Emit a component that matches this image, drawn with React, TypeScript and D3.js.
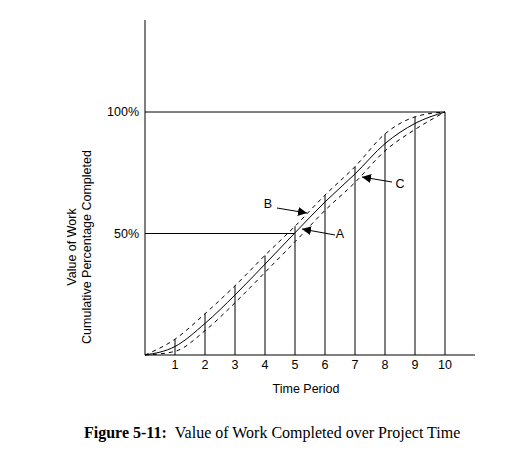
import React from "react";
import * as d3 from "d3";

const periods = [0, 1, 2, 3, 4, 5, 6, 7, 8, 9, 10];
const seriesA = [0, 3.5, 13, 24.7, 37.4, 50.3, 63, 74.5, 87, 95.3, 100];
const seriesB = [0, 6.5, 17, 28.5, 41, 53, 65.8, 77.5, 91, 98, 100];
const seriesC = [0, 1.5, 10, 21.5, 34, 46.6, 59.5, 71, 84, 92.8, 100];
const xTickLabels = ["1", "2", "3", "4", "5", "6", "7", "8", "9", "10"];
const yTicks = [50, 100];

export default function App() {
  const x = d3.scaleLinear().domain([0, 10]).range([145, 445]);
  const y = d3.scaleLinear().domain([0, 100]).range([355, 112]);
  const line = (vals: number[]) =>
    d3
      .line<number>()
      .x((_, i) => x(periods[i]))
      .y((v) => y(v))
      .curve(d3.curveMonotoneX)(vals) as string;

  const font = "Arial, 'Liberation Sans', sans-serif";
  const fs = 12.5;
  const arrows = [
    { label: "B", lx: 268, ly: 204, x1: 277, y1: 208, x2: 307, y2: 213 },
    { label: "A", lx: 340, ly: 234, x1: 335, y1: 235, x2: 302, y2: 229 },
    { label: "C", lx: 400, ly: 184, x1: 392, y1: 182, x2: 362, y2: 177 },
  ];

  return (
    <svg
      width={532}
      height={470}
      style={{ position: "absolute", left: 0, top: 0, background: "#fff" }}
    >
      <defs>
        <marker
          id="ah"
          viewBox="0 0 10 10"
          refX={10}
          refY={5}
          markerWidth={9}
          markerHeight={9}
          markerUnits="userSpaceOnUse"
          orient="auto"
        >
          <path d="M0,0 L10,5 L0,10 z" fill="#000" />
        </marker>
      </defs>
      {/* axes */}
      <line x1={145} y1={20} x2={145} y2={355} stroke="#000" />
      <line x1={145} y1={355} x2={475} y2={355} stroke="#000" />
      {/* reference lines */}
      <line x1={x(0)} y1={y(100)} x2={x(10)} y2={y(100)} stroke="#000" />
      <line x1={x(0)} y1={y(50)} x2={x(5)} y2={y(50)} stroke="#000" />
      {/* vertical period lines */}
      {periods.slice(1).map((p, i) => (
        <line
          key={p}
          x1={x(p)}
          x2={x(p)}
          y1={y(0)}
          y2={y(seriesB[i + 1])}
          stroke="#000"
        />
      ))}
      {/* curves */}
      <path d={line(seriesA)} fill="none" stroke="#000" strokeWidth={1} />
      <path
        d={line(seriesB)}
        fill="none"
        stroke="#000"
        strokeWidth={1}
        strokeDasharray="4,4"
      />
      <path
        d={line(seriesC)}
        fill="none"
        stroke="#000"
        strokeWidth={1}
        strokeDasharray="4,4"
      />
      {/* arrows */}
      {arrows.map((a) => (
        <g key={a.label}>
          <line
            x1={a.x1}
            y1={a.y1}
            x2={a.x2}
            y2={a.y2}
            stroke="#000"
            markerEnd="url(#ah)"
          />
          <text
            x={a.lx}
            y={a.ly}
            fontFamily={font}
            fontSize={fs}
            textAnchor="middle"
            dominantBaseline="central"
          >
            {a.label}
          </text>
        </g>
      ))}
      {/* x tick labels */}
      {xTickLabels.map((t, i) => (
        <text
          key={t}
          x={x(i + 1)}
          y={369}
          fontFamily={font}
          fontSize={fs}
          textAnchor="middle"
        >
          {t}
        </text>
      ))}
      <text x={306} y={393} fontFamily={font} fontSize={fs} textAnchor="middle">
        Time Period
      </text>
      {/* y tick labels */}
      {yTicks.map((t) => (
        <text
          key={t}
          x={139}
          y={y(t) + 4}
          fontFamily={font}
          fontSize={fs}
          textAnchor="end"
        >
          {t}%
        </text>
      ))}
      {/* y-axis title */}
      <g transform="translate(76,247) rotate(-90)">
        <text x={0} y={0} fontFamily={font} fontSize={fs} textAnchor="middle">
          Value of Work
        </text>
        <text x={0} y={15} fontFamily={font} fontSize={fs} textAnchor="middle">
          Cumulative Percentage Completed
        </text>
      </g>
      {/* caption */}
      <text
        x={84}
        y={438}
        fontFamily="'Liberation Serif', 'Times New Roman', serif"
        fontSize={16}
      >
        <tspan fontWeight="bold">Figure 5-11:</tspan>
        <tspan>{"\u00a0\u00a0Value of Work Completed over Project Time"}</tspan>
      </text>
    </svg>
  );
}
